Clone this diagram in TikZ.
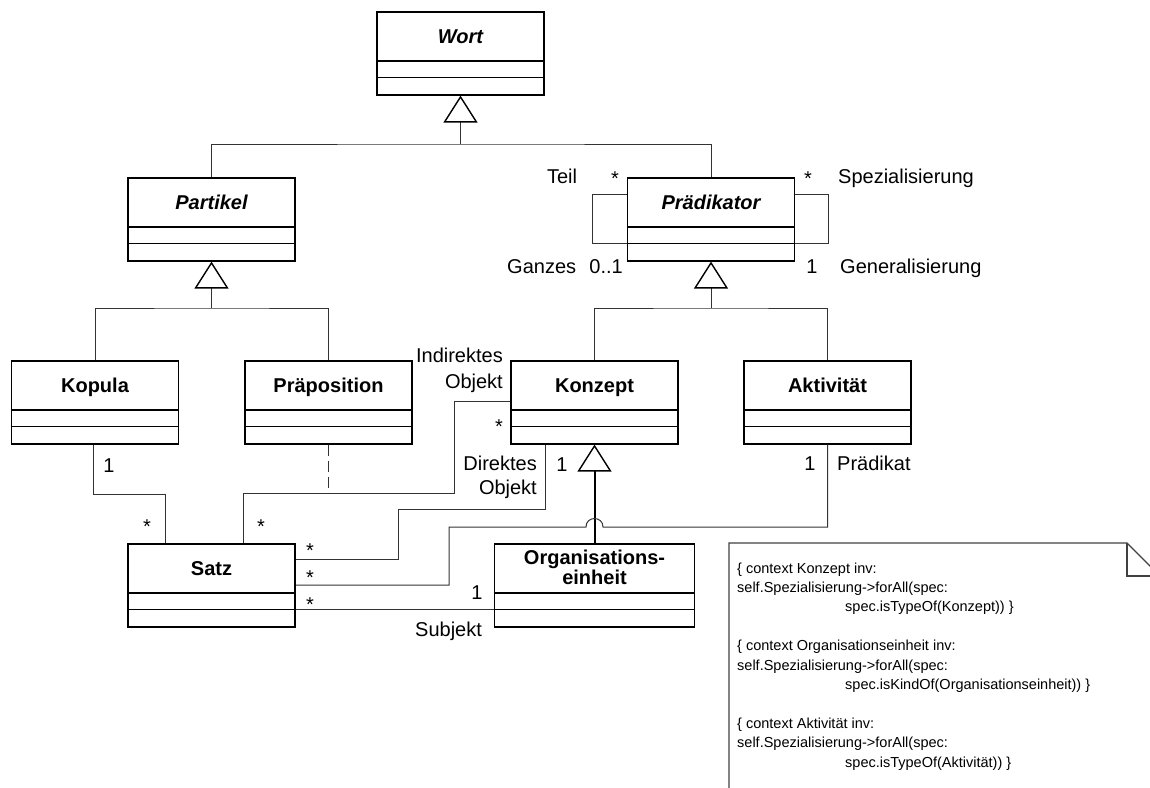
\documentclass[tikz,border=0pt]{standalone}
\usepackage{fontspec}
\setmainfont{Liberation Sans}
\usetikzlibrary{arrows.meta,calc}

\tikzset{
  classbox/.style={draw=black, line width=1.6pt, minimum width=167pt, minimum height=83pt,
    anchor=north, inner sep=0pt},
  compline/.style={draw=black, line width=1.6pt},
  classname/.style={font=\fontsize{20}{20}\selectfont\bfseries, anchor=base, inner sep=0pt},
  abstractname/.style={font=\fontsize{20}{20}\selectfont\bfseries\itshape, anchor=base, inner sep=0pt},
  conn/.style={draw=black!80, line width=1pt},
  gentip/.style={-{Triangle[length=27pt, width=34pt, color=black, fill=white, line width=1.4pt]}},
  gen/.style={conn, gentip},
  lbl/.style={font=\fontsize{20}{24}\selectfont, inner sep=0pt},
  notetext/.style={font=\fontsize{14.5}{19.4}\selectfont, align=left, inner sep=0pt, anchor=north west},
  noteline/.style={draw=black!75, line width=1.2pt},
}

% class box: style of the title, name, centre x, top y, title
\newcommand\umlclass[5][classname]{%
  \node[classbox] (#2) at (#3,#4) {};
  \draw[compline] ($(#2.north west)+(0,50)$) -- ($(#2.north east)+(0,50)$);
  \draw[compline] ($(#2.north west)+(0,66.5)$) -- ($(#2.north east)+(0,66.5)$);
  \node[#1] (#2-t) at ($(#2.north)+(0,32)$) {#5};
}

\begin{document}
\begin{tikzpicture}[x=1pt, y=-1pt]
\useasboundingbox (0,0) rectangle (1150,787);

% classes
\umlclass[abstractname]{wort}{460.5}{11}{Wort}
\umlclass[abstractname]{partikel}{211.5}{177}{Partikel}
\umlclass[abstractname]{praed}{711}{177}{Prädikator}
\umlclass{kopula}{95}{360}{Kopula}
\umlclass{praep}{328.5}{360}{Präposition}
\umlclass{konzept}{594.5}{360}{Konzept}
\umlclass{akt}{827.5}{360}{Aktivität}
\umlclass{satz}{211.5}{543}{Satz}

\node[classbox, minimum width=200pt] (org) at (594.5,543) {};
\draw[compline] ($(org.north west)+(0,50)$) -- ($(org.north east)+(0,50)$);
\draw[compline] ($(org.north west)+(0,66.5)$) -- ($(org.north east)+(0,66.5)$);
\node[font=\fontsize{20}{20.5}\selectfont\bfseries, align=center, anchor=north, inner sep=0pt]
  (org-t) at ($(org.north)+(0,6.5)$) {Organisations-\\einheit};

% generalisations
\coordinate (wj) at (460.5,144);
\coordinate (pj) at (211.5,308);
\coordinate (kj) at (711,308);
\draw[conn] (partikel.north) |- (wj) -| (praed.north);
\draw[gen] (wj) -- (wort.south);
\draw[conn] (kopula.north) |- (pj) -| (praep.north);
\draw[gen] (pj) -- (partikel.south);
\draw[conn] (konzept.north) |- (kj) -| (akt.north);
\draw[gen] (kj) -- (praed.south);

% self associations of Prädikator
\draw[conn] ($(praed.north west)+(0,17)$) -- ++(-34,0) |- ($(praed.north west)+(0,66)$);
\draw[conn] ($(praed.north east)+(0,17)$) -- ++(33,0) |- ($(praed.north east)+(0,66)$);
\node[lbl, anchor=base] (l-teil) at (562,183) {Teil};
\node[lbl, anchor=base] (m-teil) at (615,185) {*};
\node[lbl, anchor=base] (m-spez) at (808,185) {*};
\node[lbl, anchor=base west] (l-spez) at (838,183) {Spezialisierung};
\node[lbl, anchor=base west] (l-ganz) at (507,273) {Ganzes};
\node[lbl, anchor=base east] (m-ganz) at (623,273) {0..1};
\node[lbl, anchor=base] (m-gen) at (812,273) {1};
\node[lbl, anchor=base west] (l-gen) at (840,273) {Generalisierung};

% Kopula -- Satz
\draw[conn] ($(kopula.south)+(-2,0)$) -- ++(0,50) -| ($(satz.north west)+(38,0)$);
\node[lbl, anchor=base] (m-kop1) at (109,472) {1};
\node[lbl, anchor=base] (m-kop2) at (147,533) {*};

% indirect object, with Präposition as association class
\coordinate (ib) at (454,493);
\draw[conn] ($(satz.north west)+(116,0)$) |- (ib) |- ($(konzept.north west)+(0,41)$);
\draw[conn, dash pattern=on 11pt off 5pt] (praep.south) -- (praep.south |- ib);
\node[lbl, anchor=base] (m-ind1) at (261,533) {*};
\node[lbl, anchor=base] (m-ind2) at (499,433) {*};
\node[lbl, anchor=base east] (l-ind1) at (503,362) {Indirektes};
\node[lbl, anchor=base east] (l-ind2) at (503,388) {Objekt};

% direct object
\coordinate (db) at (398,509);
\draw[conn] ($(satz.north east)+(0,16)$) -| (db) -| ($(konzept.south west)+(35,0)$);
\node[lbl, anchor=base] (m-dir1) at (310,557) {*};
\node[lbl, anchor=base] (m-dir2) at (562,471) {1};
\node[lbl, anchor=base east] (l-dir1) at (537,470) {Direktes};
\node[lbl, anchor=base east] (l-dir2) at (537,494) {Objekt};

% Organisationseinheit is a Konzept
\draw[gen, draw=black, line width=2pt] (org.north) -- (konzept.south);

% predicate, hopping over the generalisation line
\coordinate (pb) at (449,527);
\coordinate (hopa) at ($(org.north)+(-8.5,-16)$);
\coordinate (hopb) at ($(org.north)+(8.5,-16)$);
\draw[conn] ($(satz.north east)+(0,42)$) -| (pb) -- (hopa)
  .. controls ($(hopa)+(0,-11.3)$) and ($(hopb)+(0,-11.3)$) .. (hopb) -| (akt.south);
\node[lbl, anchor=base] (m-pr1) at (310,584) {*};
\node[lbl, anchor=base] (m-pr2) at (810,470) {1};
\node[lbl, anchor=base west] (l-pr) at (837,470) {Prädikat};

% subject
\draw[conn] ($(satz.north east)+(0,66)$) -- ($(org.north west)+(0,66)$);
\node[lbl, anchor=base] (m-sub1) at (310,611) {*};
\node[lbl, anchor=base] (m-sub2) at (477,599) {1};
\node[lbl, anchor=base west] (l-sub) at (415,636) {Subjekt};

% constraint note
\draw[noteline] (729,800) -- (729,543) -- (1127,543) -- (1160,576);
\draw[noteline] (1127,543) -- (1127,576) -- (1160,576);
\node[notetext] (note) at (737,562.4) {%
\{ context Konzept inv:\\
self.Spezialisierung->forAll(spec:\\
\hspace*{108pt}spec.isTypeOf(Konzept)) \}\\
\mbox{}\\
\{ context Organisationseinheit inv:\\
self.Spezialisierung->forAll(spec:\\
\hspace*{108pt}spec.isKindOf(Organisationseinheit)) \}\\
\mbox{}\\
\{ context Aktivität inv:\\
self.Spezialisierung->forAll(spec:\\
\hspace*{108pt}spec.isTypeOf(Aktivität)) \}};
\end{tikzpicture}
\end{document}
